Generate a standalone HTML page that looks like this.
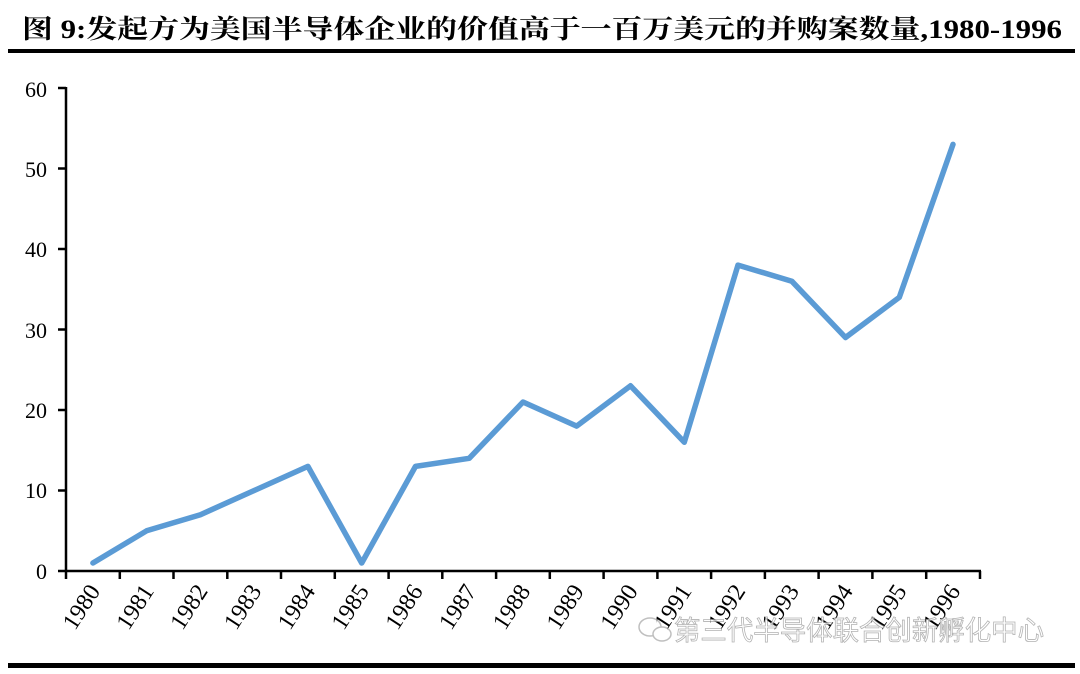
<!DOCTYPE html>
<html><head><meta charset="utf-8"><style>
html,body{margin:0;padding:0;background:#fff;}
svg{display:block;}
</style></head><body>
<svg width="1080" height="674" xmlns="http://www.w3.org/2000/svg">
<text x="22" y="38" textLength="1040" lengthAdjust="spacingAndGlyphs" font-family="'Liberation Serif','Noto Serif CJK SC',serif" font-weight="bold" font-size="26" fill="#000">图  9:发起方为美国半导体企业的价值高于一百万美元的并购案数量,1980-1996</text>
<rect x="8" y="49" width="1067" height="4" fill="#000"/>
<rect x="8" y="663" width="1067" height="5" fill="#000"/>
<g font-family="'Liberation Serif',serif" font-size="22" fill="#000" text-anchor="end">
<text x="47" y="579">0</text><text x="47" y="498">10</text><text x="47" y="418">20</text><text x="47" y="338">30</text><text x="47" y="257">40</text><text x="47" y="177">50</text><text x="47" y="97">60</text>
</g>
<g stroke="#000" stroke-width="2.5" fill="none">
<line x1="66" y1="87" x2="66" y2="572"/>
<line x1="58" y1="88" x2="66" y2="88"/><line x1="58" y1="168.5" x2="66" y2="168.5"/><line x1="58" y1="249" x2="66" y2="249"/><line x1="58" y1="329.5" x2="66" y2="329.5"/><line x1="58" y1="410" x2="66" y2="410"/><line x1="58" y1="490.5" x2="66" y2="490.5"/>
<line x1="58" y1="571" x2="981" y2="571"/>
<line x1="66" y1="571" x2="66" y2="579"/><line x1="119.8" y1="571" x2="119.8" y2="579"/><line x1="173.5" y1="571" x2="173.5" y2="579"/><line x1="227.3" y1="571" x2="227.3" y2="579"/><line x1="281" y1="571" x2="281" y2="579"/><line x1="334.8" y1="571" x2="334.8" y2="579"/><line x1="388.6" y1="571" x2="388.6" y2="579"/><line x1="442.3" y1="571" x2="442.3" y2="579"/><line x1="496.1" y1="571" x2="496.1" y2="579"/><line x1="549.8" y1="571" x2="549.8" y2="579"/><line x1="603.6" y1="571" x2="603.6" y2="579"/><line x1="657.4" y1="571" x2="657.4" y2="579"/><line x1="711.1" y1="571" x2="711.1" y2="579"/><line x1="764.9" y1="571" x2="764.9" y2="579"/><line x1="818.6" y1="571" x2="818.6" y2="579"/><line x1="872.4" y1="571" x2="872.4" y2="579"/><line x1="926.2" y1="571" x2="926.2" y2="579"/><line x1="980" y1="571" x2="980" y2="579"/>
</g>
<polyline fill="none" stroke="#5b9bd5" stroke-width="5.5" stroke-linejoin="round" stroke-linecap="round" points="92.9,563 146.6,530.8 200.4,514.7 254.2,490.5 307.9,466.4 361.7,563 415.5,466.4 469.2,458.3 523,402 576.7,426.1 630.5,385.8 684.3,442.2 738,265.1 791.8,281.2 845.5,337.5 899.3,297.3 953,144.4"/>
<g font-family="'Liberation Serif',serif" font-size="24" fill="#000" text-anchor="end">
<text transform="translate(101,591) rotate(-57)">1980</text>
<text transform="translate(154.7,591) rotate(-57)">1981</text>
<text transform="translate(208.5,591) rotate(-57)">1982</text>
<text transform="translate(262.3,591) rotate(-57)">1983</text>
<text transform="translate(316,591) rotate(-57)">1984</text>
<text transform="translate(369.8,591) rotate(-57)">1985</text>
<text transform="translate(423.6,591) rotate(-57)">1986</text>
<text transform="translate(477.3,591) rotate(-57)">1987</text>
<text transform="translate(531.1,591) rotate(-57)">1988</text>
<text transform="translate(584.8,591) rotate(-57)">1989</text>
<text transform="translate(638.6,591) rotate(-57)">1990</text>
<text transform="translate(692.4,591) rotate(-57)">1991</text>
<text transform="translate(746.1,591) rotate(-57)">1992</text>
<text transform="translate(799.9,591) rotate(-57)">1993</text>
<text transform="translate(853.6,591) rotate(-57)">1994</text>
<text transform="translate(907.4,591) rotate(-57)">1995</text>
<text transform="translate(961.2,591) rotate(-57)">1996</text>
</g>
<g opacity="0.75">
<ellipse cx="650" cy="627" rx="11" ry="9" fill="#fff" stroke="#aaa" stroke-width="1.5"/>
<ellipse cx="662" cy="634" rx="9" ry="7" fill="#fff" stroke="#aaa" stroke-width="1.5"/>
<text x="674" y="640" textLength="370" lengthAdjust="spacingAndGlyphs" font-family="'Noto Sans CJK SC',sans-serif" font-size="27" fill="#fff" stroke="#999" stroke-width="0.8">第三代半导体联合创新孵化中心</text>
</g>
</svg>
</body></html>
